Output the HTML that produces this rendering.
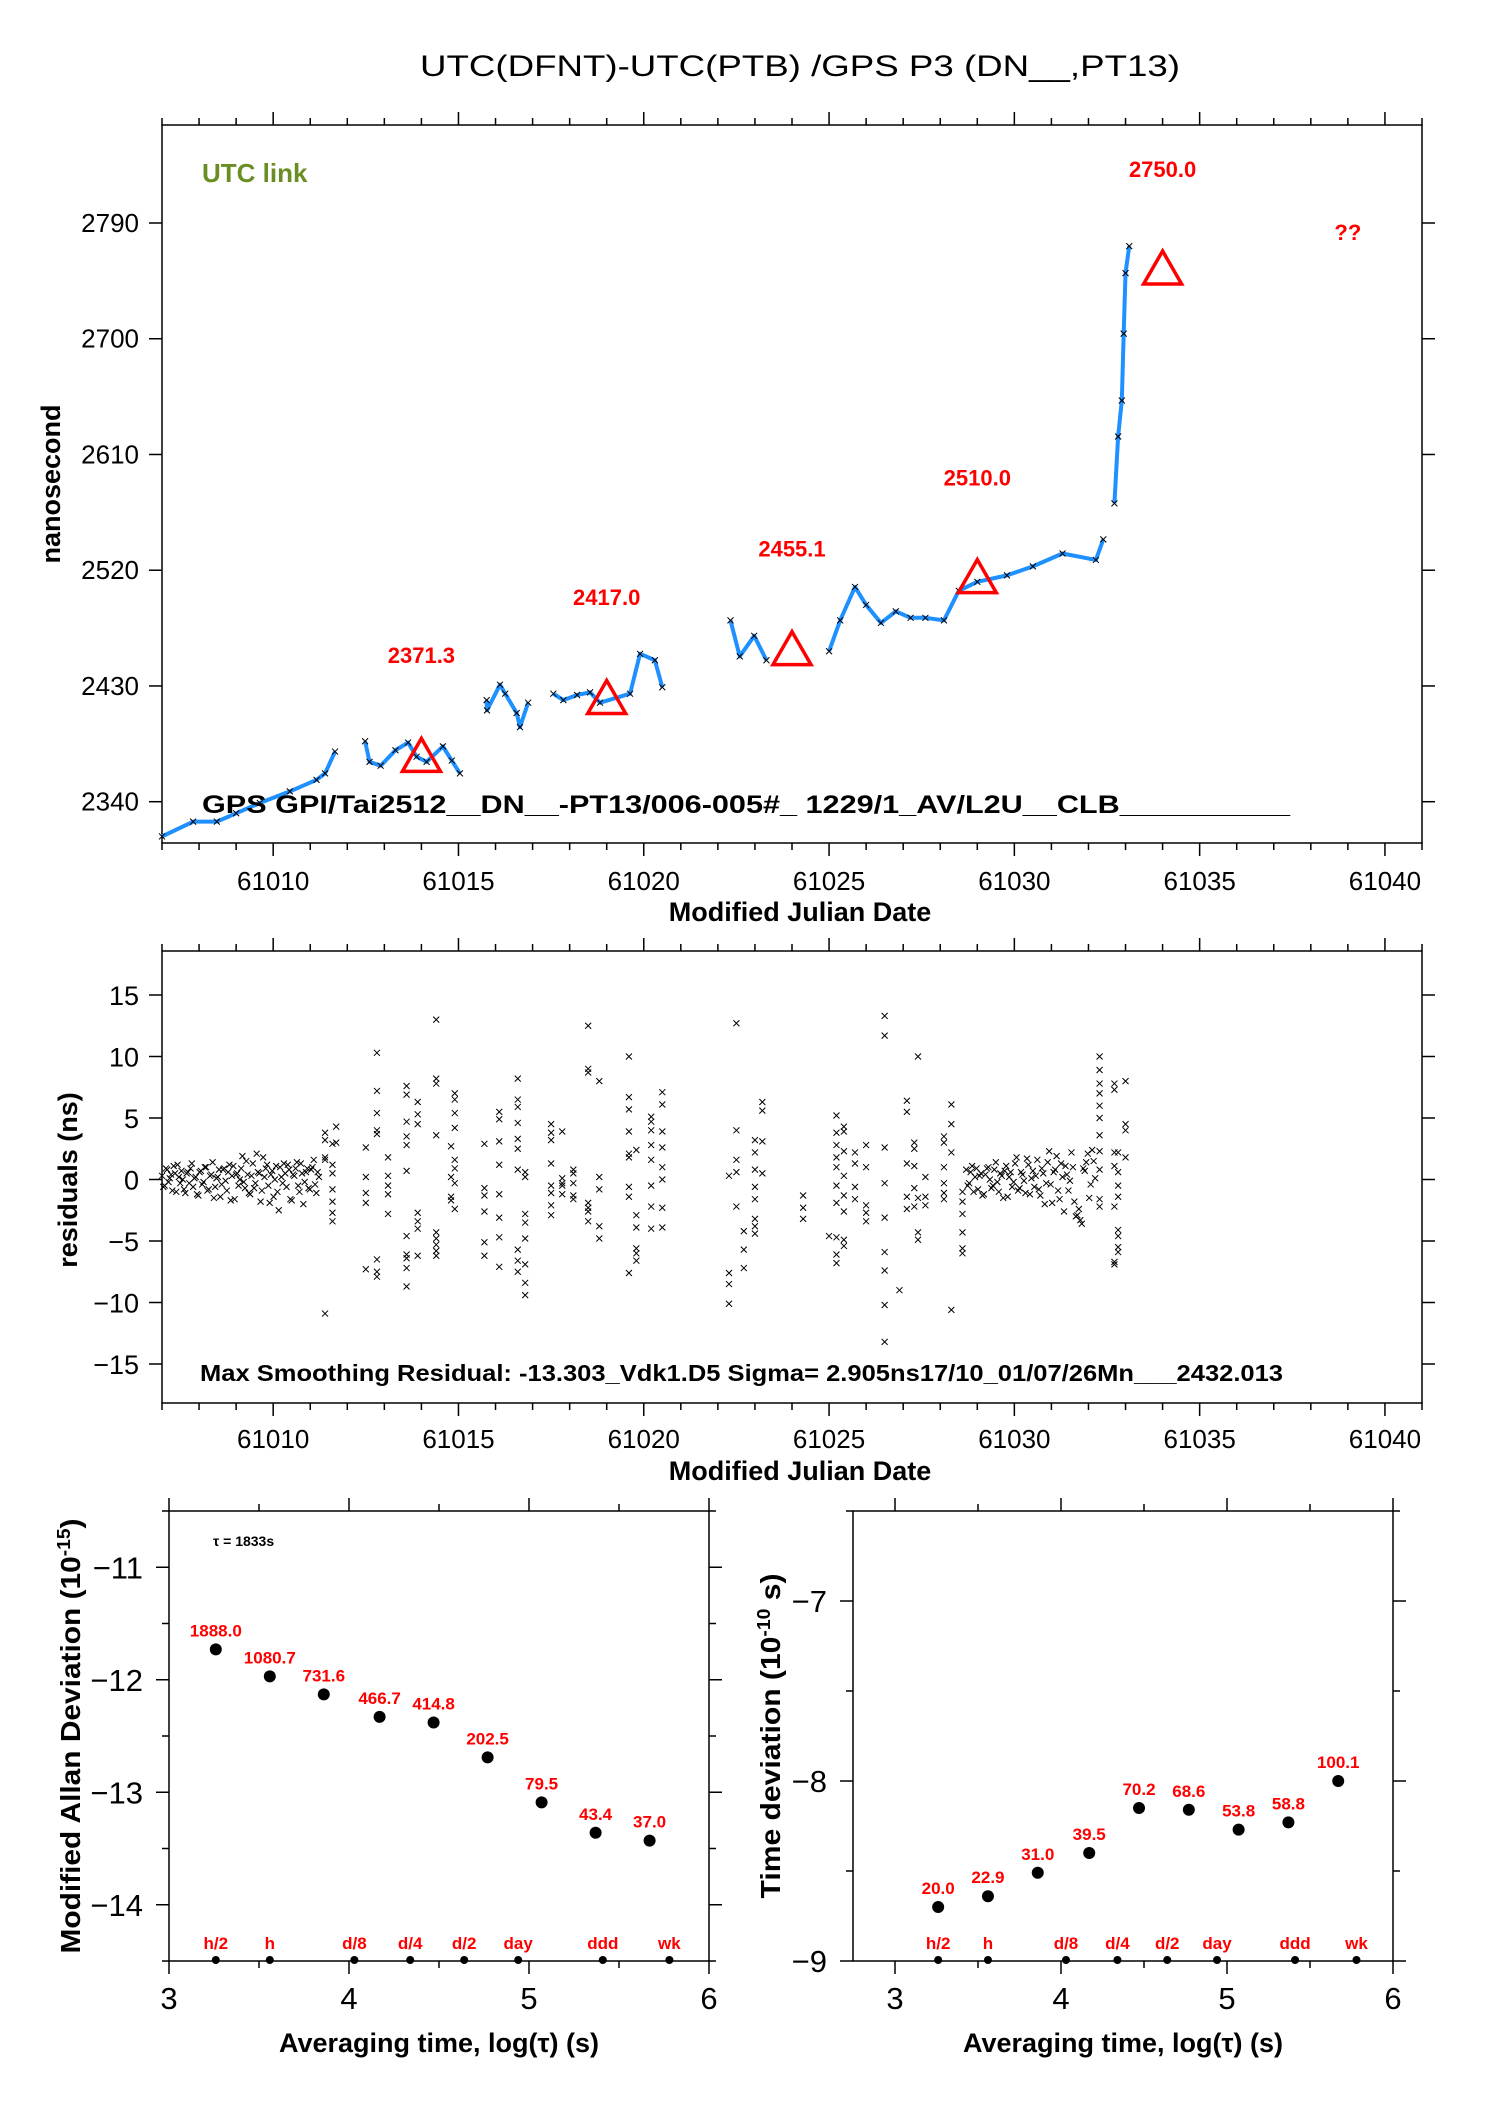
<!DOCTYPE html>
<html><head><meta charset="utf-8"><style>
html,body{margin:0;padding:0;background:#fff;}
svg{display:block;font-family:"Liberation Sans",sans-serif;}
</style></head><body>
<svg id="root" width="1488" height="2105" viewBox="0 0 1488 2105" xmlns="http://www.w3.org/2000/svg">
<text x="800" y="76" font-size="30" text-anchor="middle" textLength="760" lengthAdjust="spacingAndGlyphs">UTC(DFNT)-UTC(PTB)  /GPS  P3  (DN__,PT13)</text>
<g id="top"></g>
<g id="mid"></g>
<g id="adev"></g>
<g id="tdev"></g>
</svg>
<script>
// ---------- top chart data ----------
const topSegMjd = [
 [61007.0,61007.84,61008.48,61009.0,61009.64,61010.45,61011.17,61011.4,61011.67],
 [61012.48,61012.6,61012.9,61013.3,61013.64,61013.87,61014.14,61014.58,61014.82,61015.04],
 [61015.76,61015.77,61016.12,61016.26,61016.57,61016.66,61016.88],
 [61017.56,61017.83,61018.2,61018.55,61018.82,61019.63,61019.9,61020.3,61020.5],
 [61022.34,61022.59,61022.98,61023.31],
 [61025.0,61025.3,61025.7,61026.0,61026.4,61026.8,61027.2,61027.6,61028.1,61028.5,61029.0,61029.8,61030.5,61031.3,61032.2,61032.4],
 [61032.7,61032.8,61032.9,61032.95,61033.0,61033.1]
];
const topSegNs = [
 [2313,2324.5,2324.5,2331,2339,2348,2357,2362,2379],
 [2387,2371,2368,2380,2386,2375,2371,2383,2372,2362],
 [2419,2411,2431,2424,2409,2398,2417],
 [2424,2419,2423,2425,2417,2424,2455,2450,2429],
 [2481,2453,2469,2450],
 [2457,2481,2507,2493,2479,2488,2483,2483,2481,2504,2511,2516,2523,2533,2528,2544],
 [2572,2624,2652,2704,2751,2772]
];
const triMjd = [61014,61019,61024,61029,61034];
const triNs = [2376,2421,2459,2515,2755];
const triLabels = ["2371.3","2417.0","2455.1","2510.0","2750.0"];
const triLabelNs = [2454,2499,2537,2592,2832];
const topYTicks = [2340,2430,2520,2610,2700,2790];
const mjdTicks = [61010,61015,61020,61025,61030,61035,61040];

// ---------- residuals data ----------
const resDense1 = [0.3,-0.5,0.8,0.1,-0.9,0.5,1.2,-0.3,0.0,-1.1,0.6,0.9,-0.6,0.2,-1.3,0.7,-0.2,1.0,-0.8,0.4,-1.5,0.1,0.8,-0.4,0.9,-0.9,1.2,0.3,-1.6,0.5,0.0,1.9,-0.7,0.4,-1.2,1.3,-0.3,0.6,-1.8,1.8,0.9,-0.5,0.4,-1.4,1.1,-2.5,0.2,1.3,-0.6,0.8,-1.7,0.3,1.4,-1.0,0.5,-0.2,0.9,-0.8,1.0,-0.4,0.6];
const resDense1b = [-0.6,0.9,-0.2,0.4,1.1,-1.0,0.2,0.7,-0.8,0.5,-0.3,1.3,0.1,-1.2,0.6,-0.4,1.0,-0.9,0.3,1.4,-0.6,0.2,-1.4,0.8,-0.1,0.6,-1.7,1.1,0.4,-0.5,0.9,-0.2,1.5,-1.1,0.3,-0.7,2.1,0.5,-0.9,0.2,1.2,-1.9,0.7,0.0,-1.0,1.0,-0.3,0.5,1.2,-1.6,0.4,0.9,-0.5,1.3,-2.0,0.6,-0.7,0.8,1.6,-1.1,0.2];
const resDense2 = [0.8,-0.3,1.1,0.2,-0.8,0.5,-1.2,0.9,0.0,-0.5,1.4,-1.0,0.3,0.7,-1.4,0.6,-0.2,1.8,-0.7,0.4,-1.1,1.2,0.1,-0.6,1.6,-1.3,0.5,-0.3,2.3,-1.9,0.8,-0.9,1.3,-2.6,0.4,-0.1,1.0,-3.0,-2.4,-3.6,0.7,2.1,-0.4,1.5];
const resDense2b = [-0.5,0.6,-1.0,0.9,0.3,-1.3,0.4,1.0,-0.7,0.8,-0.2,0.5,-1.5,1.1,0.2,-0.6,1.3,-0.9,0.6,-0.1,1.7,-1.2,0.7,0.3,-0.8,0.9,-2.0,1.4,-0.4,0.6,1.9,-1.6,0.2,1.1,-0.9,2.2,-1.8,-2.9,-3.3,0.9,1.4,-1.5,2.4,0.1];
const resGroupMjd = [61011.4,61011.6,61011.7,61012.5,61012.8,61013.1,61013.6,61013.9,61014.4,61014.8,61014.9,61015.7,61016.1,61016.6,61016.8,61017.5,61017.8,61018.1,61018.5,61018.8,61019.6,61019.8,61020.2,61020.5,61022.3,61022.5,61022.7,61023.0,61023.2,61024.3,61025.0,61025.2,61025.4,61025.7,61026.0,61026.5,61026.9,61027.1,61027.3,61027.4,61027.6,61028.1,61028.3,61028.6,61032.3,61032.7,61032.8,61033.0];
const resGroupVals = [
 [3.8,3.2,1.8,1.6,-10.9],[2.9,1.2,0.5,-1.8,-2.7,-3.4,-0.8],[4.3,3.0],[2.6,0.2,-1.1,-1.9,-7.3],
 [10.3,7.2,5.4,4.0,3.7,-6.5,-7.5,-7.9],[1.8,0.3,-0.5,-1.2,-2.8],[7.6,6.9,4.7,3.5,2.8,0.7,-4.6,-6.1,-6.4,-8.7,-7.2],
 [6.3,5.3,4.5,-2.7,-3.4,-4.0,-6.2],[13.0,8.2,7.8,3.6,-4.3,-4.8,-5.3,-5.8,-6.2],[2.7,0.2,-1.4,-1.7],
 [7.0,6.5,5.4,4.2,1.6,0.9,-0.3,-2.4],[2.9,-0.7,-1.3,-2.6,-5.1,-6.2],[5.5,4.9,3.1,1.2,-1.2,-3.1,-4.7,-7.1],
 [8.2,6.5,5.9,4.6,3.3,2.5,0.8,-5.7,-6.6,-7.5],[-9.4,-8.4,-6.9,-4.8,-3.5,-2.8,0.2,0.6],[4.5,3.8,3.2,1.3,-0.5,-1.1,-2.1,-2.9],
 [3.9,0.1,-0.5,-1.2,-0.3],[0.8,0.5,-0.3,-1.3,-1.6],[12.5,9.0,8.7,-1.9,-2.3,-2.6,-3.4],[8.0,0.2,-0.8,-3.8,-4.8],
 [10.0,6.7,5.7,3.9,2.1,1.8,-0.6,-1.4,-7.6],[2.4,-2.9,-3.9,-5.6,-6.6,-6.0],[5.1,4.7,4.0,2.8,1.6,-0.5,-2.2,-4.0],
 [7.1,6.1,3.9,2.6,1.0,0.0,-2.3,-3.9],[0.3,-7.6,-8.5,-10.1],[12.7,4.0,1.6,0.6,-2.2],[-4.2,-5.7,-7.2],
 [3.2,2.2,0.8,-0.6,-1.6,-3.2,-3.8,-4.4],[6.3,5.6,3.1,0.5],[-1.3,-2.3,-3.2],[-4.6],
 [5.2,3.8,2.8,1.8,1.0,-0.5,-1.9,-4.7,-6.1,-6.8],[4.3,3.9,2.3,0.3,-1.3,-2.6,-4.9,-5.4],[2.2,1.3,-0.6,-1.6],
 [2.8,1.0,-2.1,-2.7,-3.4],[13.3,11.7,2.6,-0.3,-3.1,-5.9,-7.4,-10.2,-13.2],[-9.0],[6.4,5.5,1.3,-1.4,-2.4],
 [3.0,2.5,1.1,-0.7,-2.2],[10.0,-1.5,-4.3,-4.9],[0.2,-1.4,-2.1],[3.5,3.0,1.0,-0.3,-1.1,-1.6],[6.1,4.5,2.2,-10.6],
 [-1.0,-1.8,-2.8,-4.3,-5.6,-6.0],[10.0,8.9,7.8,7.0,6.0,5.0,3.6,2.3,0.8,-1.6,-2.2],[7.8,7.3,2.2,1.1,-2.2,-6.7,-6.9],
 [2.2,0.6,-0.5,-1.4,-4.1,-4.6,-5.5,-5.9],[8.0,4.5,4.0,1.8]
];
const resYTicks = [-15,-10,-5,0,5,10,15];

// ---------- stability data ----------
const logTau = [3.26,3.56,3.86,4.17,4.47,4.77,5.07,5.37,5.67];
const adevVals = [-11.73,-11.97,-12.13,-12.33,-12.38,-12.69,-13.09,-13.36,-13.43];
const adevLabels = ["1888.0","1080.7","731.6","466.7","414.8","202.5","79.5","43.4","37.0"];
const tdevVals = [-8.70,-8.64,-8.51,-8.40,-8.15,-8.16,-8.27,-8.23,-8.00];
const tdevLabels = ["20.0","22.9","31.0","39.5","70.2","68.6","53.8","58.8","100.1"];
const refTau = [3.26,3.56,4.03,4.34,4.64,4.94,5.41,5.78];
const refLabels = ["h/2","h","d/8","d/4","d/2","day","ddd","wk"];
const logTicks = [3,4,5,6];
const adevTicks = [-14,-13,-12,-11];
const tdevTicks = [-9,-8,-7];

const NS = "http://www.w3.org/2000/svg";
function mk(parent, tag, attrs, text){
  const e = document.createElementNS(NS, tag);
  for (const k in attrs) e.setAttribute(k, attrs[k]);
  if (text !== undefined) e.textContent = text;
  parent.appendChild(e);
  return e;
}
function lin(d0,d1,r0,r1){ return v => r0 + (v-d0)*(r1-r0)/(d1-d0); }
function cross(g, x, y, s){
  return mk(g,'path',{d:`M${x-s},${y-s}L${x+s},${y+s}M${x+s},${y-s}L${x-s},${y+s}`,stroke:'#000','stroke-width':1,fill:'none'});
}

// ===== TOP CHART =====
(function(){
  const g = document.getElementById('top');
  const L=162,R=1422,T=125,B=843;
  const X = lin(61007,61041,L,R), Y = lin(2340,2790,801.7,223);
  const frame = mk(g,'rect',{x:L,y:T,width:R-L,height:B-T,fill:'none',stroke:'#000','stroke-width':1.5});
   
  for (let d=61007; d<=61041; d++){
    const x=X(d), major = d%5===0;
    mk(g,'line',{x1:x,x2:x,y1:T,y2:T-(major?13:7),stroke:'#000','stroke-width':1.5});
    mk(g,'line',{x1:x,x2:x,y1:B,y2:B+(major?13:7),stroke:'#000','stroke-width':1.5});
  }
  mjdTicks.forEach(t=>{
    const lb = mk(g,'text',{x:X(t),y:890,'font-size':26,'text-anchor':'middle'},String(t));
     
  });
  topYTicks.forEach(t=>{
    const y=Y(t);
    mk(g,'line',{x1:L-13,x2:L,y1:y,y2:y,stroke:'#000','stroke-width':1.5});
    mk(g,'line',{x1:R,x2:R+13,y1:y,y2:y,stroke:'#000','stroke-width':1.5});
    const lb = mk(g,'text',{x:139,y:y+9,'font-size':26,'text-anchor':'end'},String(t));
     
  });
  const xt = mk(g,'text',{x:800,y:921,'font-size':27,'font-weight':'bold','text-anchor':'middle'},'Modified Julian Date');
   
  const yt = mk(g,'text',{x:0,y:0,'font-size':27,'font-weight':'bold','text-anchor':'middle',transform:'translate(60,484) rotate(-90)'},'nanosecond');
   
  const ul = mk(g,'text',{x:202,y:182,'font-size':26,'font-weight':'bold',fill:'#6b8e23'},'UTC link');
   
  topSegMjd.forEach((seg,i)=>{
    const pts = seg.map((m,j)=>X(m)+','+Y(topSegNs[i][j])).join(' ');
    const pl = mk(g,'polyline',{points:pts,fill:'none',stroke:'#1e90ff','stroke-width':4,'stroke-linejoin':'round'});
     
    seg.forEach((m,j)=>{
      const c = cross(g, X(m), Y(topSegNs[i][j]), 3);
       
    });
  });
  triMjd.forEach((m,i)=>{
    const x=X(m), y=Y(triNs[i]);
    const tr = mk(g,'polygon',{points:`${x},${y-17} ${x-19},${y+16} ${x+19},${y+16}`,fill:'none',stroke:'#ff0000','stroke-width':3.5});
     
    const lb = mk(g,'text',{x:x,y:Y(triLabelNs[i])+8,'font-size':22,'font-weight':'bold',fill:'#ff0000','text-anchor':'middle'},triLabels[i]);
     
  });
  const qq = mk(g,'text',{x:X(61039),y:Y(2783)+8,'font-size':22,'font-weight':'bold',fill:'#ff0000','text-anchor':'middle'},'??');
   
  const cap = mk(g,'text',{x:202,y:813,'font-size':25,'font-weight':'bold',textLength:1088,lengthAdjust:'spacingAndGlyphs'},'GPS GPI/Tai2512__DN__-PT13/006-005#_  1229/1_AV/L2U__CLB__________');
   
})();

// ===== RESIDUALS CHART =====
(function(){
  const g = document.getElementById('mid');
  const L=162,R=1422,T=951,B=1403;
  const X = lin(61007,61041,L,R), Y = lin(-15,15,1364,995);
  const frame = mk(g,'rect',{x:L,y:T,width:R-L,height:B-T,fill:'none',stroke:'#000','stroke-width':1.5});
   
  for (let d=61007; d<=61041; d++){
    const x=X(d), major = d%5===0;
    mk(g,'line',{x1:x,x2:x,y1:T,y2:T-(major?13:7),stroke:'#000','stroke-width':1.5});
    mk(g,'line',{x1:x,x2:x,y1:B,y2:B+(major?13:7),stroke:'#000','stroke-width':1.5});
  }
  mjdTicks.forEach(t=>{
    const lb = mk(g,'text',{x:X(t),y:1448,'font-size':26,'text-anchor':'middle'},String(t));
     
  });
  resYTicks.forEach(t=>{
    const y=Y(t);
    mk(g,'line',{x1:L-13,x2:L,y1:y,y2:y,stroke:'#000','stroke-width':1.5});
    mk(g,'line',{x1:R,x2:R+13,y1:y,y2:y,stroke:'#000','stroke-width':1.5});
    const lb = mk(g,'text',{x:139,y:y+10,'font-size':27,'text-anchor':'end'},(t<0?'\u2212'+(-t):String(t)));
     
  });
  const xt = mk(g,'text',{x:800,y:1480,'font-size':27,'font-weight':'bold','text-anchor':'middle'},'Modified Julian Date');
   
  const yt = mk(g,'text',{x:0,y:0,'font-size':27,'font-weight':'bold','text-anchor':'middle',transform:'translate(77,1180) rotate(-90)'},'residuals (ns)');
   
  function plotDense(vals, start, step){
    vals.forEach((v,i)=>{
      const c = cross(g, X(start+i*step), Y(v), 3);
       
    });
  }
  plotDense(resDense1, 61007.0, 0.07);
  plotDense(resDense1b, 61007.035, 0.07);
  plotDense(resDense2, 61028.7, 0.08);
  plotDense(resDense2b, 61028.74, 0.08);
  resGroupMjd.forEach((m,i)=>{
    resGroupVals[i].forEach(v=>{
      const c = cross(g, X(m), Y(v), 3);
       
    });
  });
  const cap = mk(g,'text',{x:200,y:1381,'font-size':23,'font-weight':'bold',textLength:1083,lengthAdjust:'spacingAndGlyphs'},'Max Smoothing Residual: -13.303_Vdk1.D5  Sigma= 2.905ns17/10_01/07/26Mn___2432.013');
   
})();

// ===== STABILITY CHARTS =====
function stability(id, L, R, x3, x6, ymin, ymax, yTop, yBot, vals, labels, yticks, title, titleX, titleLen, tauNote){
  const g = document.getElementById(id);
  const T=1511,B=1961;
  const X = lin(3,6,x3,x6), Y = lin(ymin,ymax,yBot,yTop);
  const frame = mk(g,'rect',{x:L,y:T,width:R-L,height:B-T,fill:'none',stroke:'#000','stroke-width':1.5});
   
  for (let v=3; v<=6.001; v+=0.5){
    const x=X(v), major=Math.abs(v-Math.round(v))<0.01;
    mk(g,'line',{x1:x,x2:x,y1:T,y2:T-(major?13:7),stroke:'#000','stroke-width':1.5});
    mk(g,'line',{x1:x,x2:x,y1:B,y2:B+(major?13:7),stroke:'#000','stroke-width':1.5});
  }
  logTicks.forEach(t=>{
    const lb = mk(g,'text',{x:X(t),y:2009,'font-size':31,'text-anchor':'middle'},String(t));
     
  });
  for (let v=ymin; v<=ymax+0.001; v+=0.5){
    const y=Y(v), major=Math.abs(v-Math.round(v))<0.01;
    mk(g,'line',{x1:L-(major?13:7),x2:L,y1:y,y2:y,stroke:'#000','stroke-width':1.5});
    mk(g,'line',{x1:R,x2:R+(major?13:7),y1:y,y2:y,stroke:'#000','stroke-width':1.5});
  }
  yticks.forEach(t=>{
    const lb = mk(g,'text',{x:L-26,y:Y(t)+11,'font-size':31,'text-anchor':'end'},'\u2212'+(-t));
     
  });
  const xt = mk(g,'text',{x:(L+R)/2,y:2052,'font-size':27,'font-weight':'bold','text-anchor':'middle'},'Averaging time, log(\u03C4) (s)');
   
  const yt = mk(g,'text',{x:0,y:0,'font-size':28,'font-weight':'bold','text-anchor':'middle',textLength:titleLen,lengthAdjust:'spacingAndGlyphs',transform:`translate(${titleX},1736) rotate(-90)`});
  yt.innerHTML = title;
   
  logTau.forEach((t,i)=>{
    const c = mk(g,'circle',{cx:X(t),cy:Y(vals[i]),r:6,fill:'#000'});
     
    const lb = mk(g,'text',{x:X(t),y:Y(vals[i])-13,'font-size':17,'font-weight':'bold',fill:'#ff0000','text-anchor':'middle'},labels[i]);
     
  });
  refTau.forEach((t,i)=>{
    const c = mk(g,'circle',{cx:X(t),cy:B-1,r:4,fill:'#000'});
     
    const lb = mk(g,'text',{x:X(t),y:B-12,'font-size':17,'font-weight':'bold',fill:'#ff0000','text-anchor':'middle'},refLabels[i]);
     
  });
  if (tauNote){
    const n = mk(g,'text',{x:213,y:1546,'font-size':14,'font-weight':'bold'},'\u03C4 = 1833s');
     
  }
}
stability('adev',169,709,169,709,-14.5,-10.5,1511,1961,adevVals,adevLabels,adevTicks,
  'Modified Allan Deviation (10<tspan baseline-shift="super" font-size="18">-15</tspan>)',80,435,true);
stability('tdev',853,1393,895,1393,-9,-6.5,1511,1961,tdevVals,tdevLabels,tdevTicks,
  'Time deviation (10<tspan baseline-shift="super" font-size="18">-10</tspan> s)',780,325,false);
</script>
</body></html>
